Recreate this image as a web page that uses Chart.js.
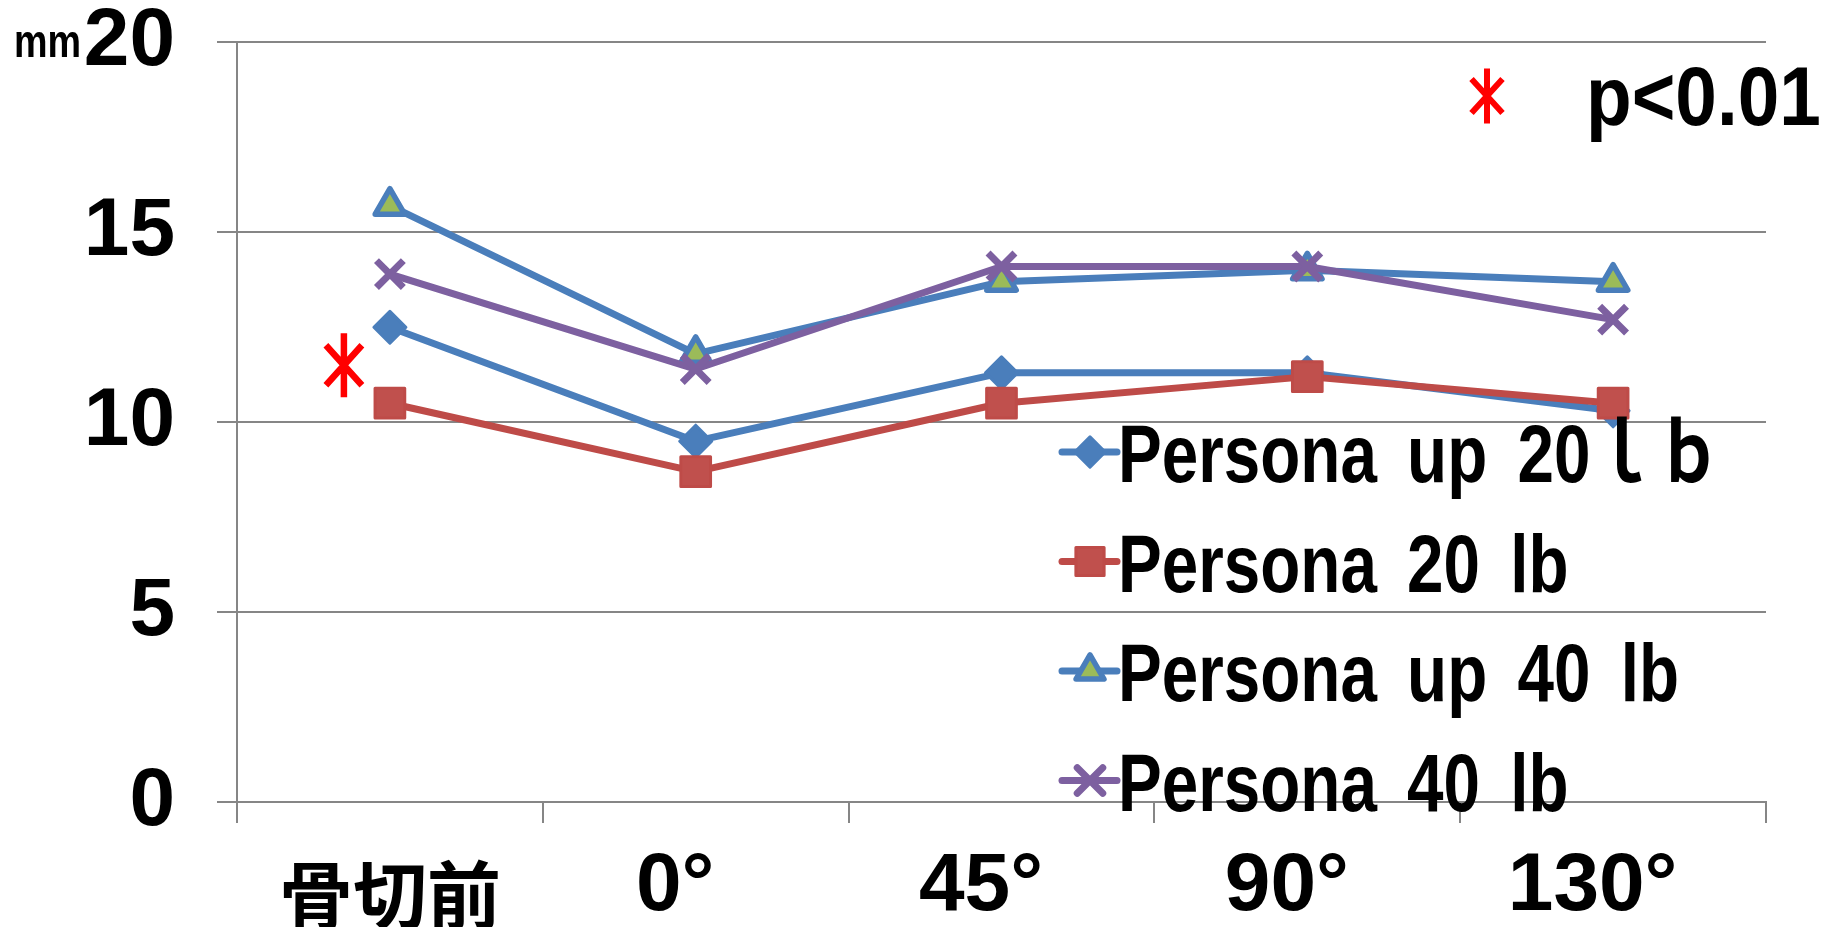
<!DOCTYPE html>
<html>
<head>
<meta charset="UTF-8">
<title>Persona</title>
<script src="https://cdn.jsdelivr.net/npm/chart.js"></script>
<style>
  html, body { margin: 0; padding: 0; background: #fff; }
  #wrap { width: 1825px; height: 927px; }
</style>
</head>
<body>
<div id="wrap"><canvas id="chart"></canvas></div>
<script>
// categories and series
var categories = ['骨切前', '0°', '45°', '90°', '130°'];
var yTicks = [0, 5, 10, 15, 20];
var seriesNames = ['Persona up 20ｌｂ', 'Persona 20 lb', 'Persona up 40 lb', 'Persona 40 lb'];
var up20 = [12.5, 9.5, 11.3, 11.3, 10.3];
var p20 = [10.5, 8.7, 10.5, 11.2, 10.5];
var up40 = [15.7, 11.8, 13.7, 14.0, 13.7];
var p40 = [13.9, 11.4, 14.1, 14.1, 12.7];
var unitLabel = 'mm';
var sigLabel = 'p<0.01';

var FONT = "'Liberation Sans', Arial, 'Noto Sans CJK JP', sans-serif";
var GRID = '#868686';
var BLUE = '#4A7EBB', RED = '#BE4B48', RED_FILL = '#C0504D', PURPLE = '#7D60A0', GREEN = '#9BBB59';

function series(label, data, color, style, radius, bw, fill, order) {
    return {
        label: label,
        data: data,
        borderColor: color,
        borderWidth: 7,
        borderCapStyle: 'round',
        borderJoinStyle: 'round',
        pointStyle: style,
        pointRadius: radius,
        pointHoverRadius: radius,
        pointBorderWidth: bw,
        pointBorderColor: color,
        pointBackgroundColor: fill,
        order: order
    };
}

function narrowText(ctx, text, x, y, size, sx, wordGap) {
    ctx.save();
    ctx.translate(x, y);
    ctx.scale(sx, 1);
    ctx.font = 'bold ' + size + 'px ' + FONT;
    ctx.textAlign = 'left';
    ctx.textBaseline = 'alphabetic';
    ctx.fillStyle = '#000';
    if (wordGap) ctx.wordSpacing = wordGap + 'px';
    ctx.fillText(text, 0, 0);
    ctx.restore();
}

// red significance asterisk
function asterisk(ctx, cx, cy, h, dx, dy, lw) {
    ctx.save();
    ctx.strokeStyle = '#FF0000';
    ctx.lineWidth = lw;
    ctx.lineCap = 'butt';
    ctx.beginPath();
    ctx.moveTo(cx, cy - h); ctx.lineTo(cx, cy + h);
    ctx.moveTo(cx - dx, cy - dy); ctx.lineTo(cx + dx, cy + dy);
    ctx.moveTo(cx + dx, cy - dy); ctx.lineTo(cx - dx, cy + dy);
    ctx.stroke();
    ctx.restore();
}

var roundJoins = {
    id: 'roundJoins',
    beforeDatasetsDraw: function (chart) { chart.ctx.save(); chart.ctx.lineJoin = 'round'; },
    afterDatasetsDraw: function (chart) { chart.ctx.restore(); }
};

var extras = {
    id: 'extras',
    afterDraw: function (chart) {
        var ctx = chart.ctx;
        var xs = chart.scales.x, ys = chart.scales.y;

        // unit next to the top tick
        narrowText(ctx, unitLabel, 14, 57, 46, 0.82);

        // asterisk beside the first group, and the key in the corner
        asterisk(ctx, xs.getPixelForValue(0) - 46, ys.getPixelForValue(11.5), 32, 18, 20, 6.5);
        asterisk(ctx, 1487, 96, 27.5, 15.5, 17, 6);
        narrowText(ctx, sigLabel, 1586, 125, 84, 0.89);

        // legend over the lower right of the plot
        chart.data.datasets.forEach(function (ds, i) {
            var base = 482 + i * 109.5;
            var my = base - 30;
            ctx.save();
            ctx.lineCap = 'round';
            ctx.lineJoin = 'round';
            ctx.strokeStyle = ds.borderColor;
            ctx.lineWidth = 7;
            ctx.beginPath();
            ctx.moveTo(1062, my);
            ctx.lineTo(1117, my);
            ctx.stroke();
            ctx.fillStyle = ds.pointBackgroundColor;
            ctx.strokeStyle = ds.pointBorderColor;
            ctx.lineWidth = ds.pointBorderWidth;
            Chart.helpers.drawPoint(ctx, {
                pointStyle: ds.pointStyle,
                radius: ds.pointRadius * 0.95,
                rotation: 0,
                borderWidth: ds.pointBorderWidth
            }, 1090, my);
            ctx.restore();
            narrowText(ctx, ds.label, 1118, base, 82, 0.8, 15);
        });
    }
};

var ctx = document.getElementById('chart').getContext('2d');
var chart = new Chart(ctx, {
    type: 'line',
    data: {
        labels: categories,
        datasets: [
            series(seriesNames[0], up20, BLUE, 'rectRot', 16, 3, BLUE, 4),
            series(seriesNames[1], p20, RED, 'rect', 21, 3, RED_FILL, 3),
            series(seriesNames[2], up40, BLUE, 'triangle', 17, 5.5, GREEN, 2),
            series(seriesNames[3], p40, PURPLE, 'crossRot', 19, 7, PURPLE, 1)
        ]
    },
    options: {
        responsive: true,
        maintainAspectRatio: false,
        animation: false,
        layout: { padding: { top: 0, right: 59, left: 0, bottom: 0 } },
        plugins: {
            legend: { display: false },
            tooltip: { enabled: false }
        },
        scales: {
            x: {
                offset: true,
                afterFit: function (s) { s.height = 125; },
                grid: {
                    offset: true,
                    drawOnChartArea: false,
                    drawTicks: true,
                    tickLength: 21,
                    color: GRID,
                    lineWidth: 2
                },
                border: { display: true, color: GRID, width: 2 },
                ticks: {
                    color: '#000',
                    padding: 15,
                    maxRotation: 0,
                    autoSkip: false,
                    // degree labels carry a wide trailing gap, as with a full-width sign
                    callback: function (v) {
                        var s = this.getLabelForValue(v);
                        return s.slice(-1) === '°' ? s + '\u2002' : s;
                    },
                    font: function (c) {
                        if (c.index === 0) {
                            return { family: FONT, size: 74, weight: 'bold', lineHeight: 1.75 };
                        }
                        return { family: FONT, size: 82, weight: 'bold', lineHeight: 1.2 };
                    }
                }
            },
            y: {
                min: 0,
                max: 20,
                afterFit: function (s) { s.width = 237; },
                afterBuildTicks: function (s) {
                    s.ticks = yTicks.map(function (v) { return { value: v }; });
                },
                grid: {
                    color: GRID,
                    lineWidth: 2,
                    drawTicks: true,
                    tickLength: 20
                },
                border: { display: true, color: GRID, width: 2 },
                ticks: {
                    color: '#000',
                    padding: 42,
                    // single-line labels: a tiny line height keeps the scale's top padding at the tick padding
                    font: { family: FONT, size: 82, weight: 'bold', lineHeight: 0.01 }
                }
            }
        }
    },
    plugins: [roundJoins, extras]
});
</script>
</body>
</html>
